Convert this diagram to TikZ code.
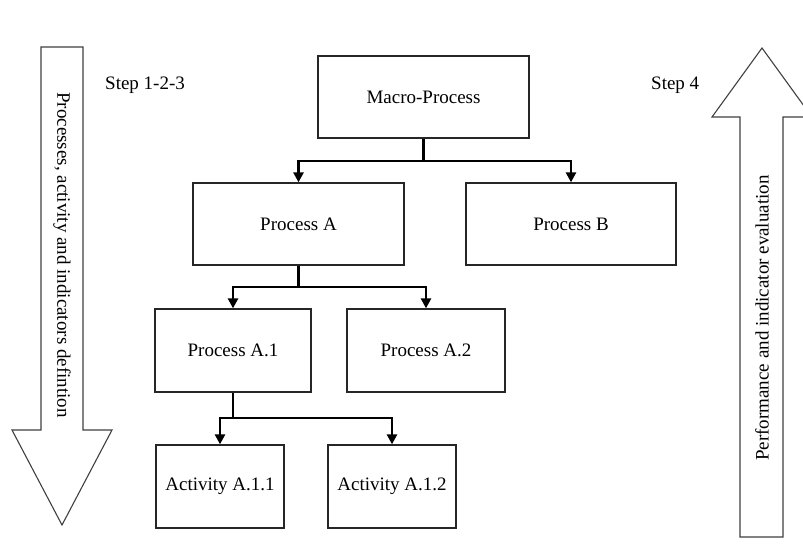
\documentclass[tikz,border=0pt]{standalone}
\usepackage{fontspec}
\setmainfont{Liberation Serif}
\usetikzlibrary{arrows.meta}
\tikzset{
  box/.style={draw=black!85, line width=1.3pt, fill=white, inner sep=0pt, font=\fontsize{19}{22}\selectfont},
  conn/.style={draw=black, line width=2.8pt, -{Triangle[width=10pt,length=10pt]}},
  plain/.style={draw=black, line width=2.8pt},
  bigarrow/.style={draw=black!75, line width=1.1pt, fill=white},
  lbl/.style={font=\fontsize{19}{22}\selectfont, inner sep=0pt}
}
\begin{document}
\begin{tikzpicture}[x=1pt,y=-1pt]
\useasboundingbox (0,0) rectangle (803,547);
\clip (0,0) rectangle (803,547);
% big arrows
\draw[bigarrow] (41,47) -- (83,47) -- (83,430) -- (112,430) -- (62,525) -- (12,430) -- (41,430) -- cycle;
\draw[bigarrow] (740,537) -- (740,117) -- (712,117) -- (762,48) -- (812,117) -- (783,117) -- (783,537) -- cycle;
\node[lbl, rotate=-90] (ltxt) at (62,255) {Processes, activity and indicators defintion};
\node[lbl, rotate=90] (rtxt) at (762,318) {Performance and indicator evaluation};
\node[lbl, anchor=west] (s123) at (105,85) {Step 1-2-3};
\node[lbl, anchor=west] (s4) at (651,85) {Step 4};
% boxes
\node[box, minimum width=211pt, minimum height=82pt] (macro) at (423.5,97) {Macro-Process};
\node[box, minimum width=211pt, minimum height=82pt] (pa) at (298.5,224) {Process A};
\node[box, minimum width=210pt, minimum height=82pt] (pb) at (571,224) {Process B};
\node[box, minimum width=156pt, minimum height=83pt] (pa1) at (233,350.5) {Process A.1};
\node[box, minimum width=158pt, minimum height=83pt] (pa2) at (426,350.5) {Process A.2};
\node[box, minimum width=128pt, minimum height=83pt] (a1) at (220,486.5) {Activity A.1.1};
\node[box, minimum width=128pt, minimum height=83pt] (a2) at (392,486.5) {Activity A.1.2};
% connectors
\coordinate (j1) at (423.5,161);
\coordinate (j2) at (298.5,287);
\coordinate (j3) at (233,418);
\draw[plain] (macro.south) -- (j1);
\draw[conn] (j1) -| (pa.north);
\draw[conn] (j1) -| (pb.north);
\draw[plain] (pa.south) -- (j2);
\draw[conn] (j2) -| (pa1.north);
\draw[conn] (j2) -| (pa2.north);
\draw[plain] (pa1.south) -- (j3);
\draw[conn] (j3) -| (a1.north);
\draw[conn] (j3) -| (a2.north);
\end{tikzpicture}
\end{document}
